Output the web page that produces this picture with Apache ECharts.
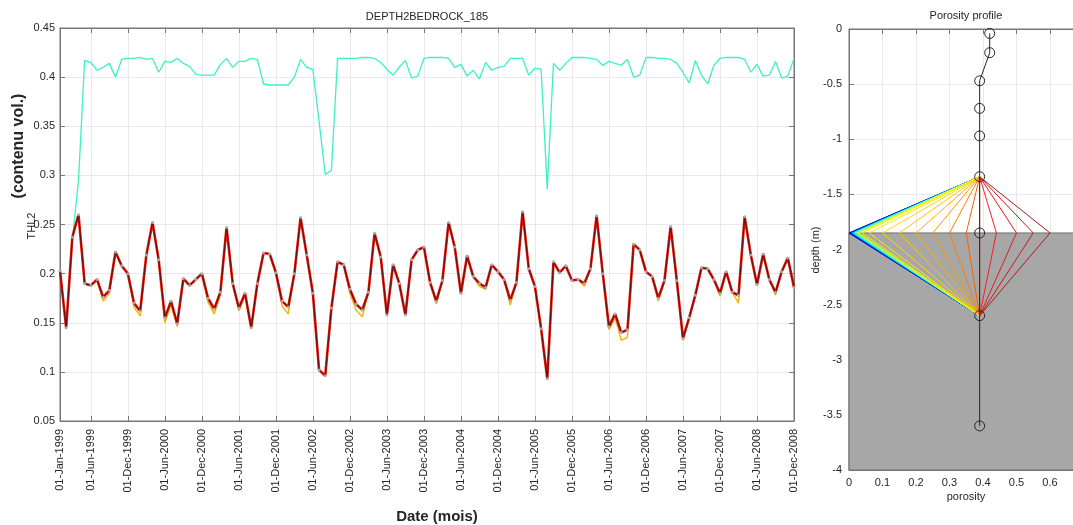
<!DOCTYPE html>
<html><head><meta charset="utf-8">
<script src="https://cdn.jsdelivr.net/npm/echarts@6/dist/echarts.min.js"></script>
<style>html,body{margin:0;padding:0;background:#fff;overflow:hidden;width:1073px;height:525px}#c{width:1090px;height:525px}</style>
</head><body><div id="c"></div>
<script>
// ---------- DATA ----------
const monthNames = ['Jan','Feb','Mar','Apr','May','Jun','Jul','Aug','Sep','Oct','Nov','Dec'];
const years = [1999,2000,2001,2002,2003,2004,2005,2006,2007,2008];
const tickLabels = ['01-Jan-1999','01-Jun-1999','01-Dec-1999','01-Jun-2000','01-Dec-2000','01-Jun-2001','01-Dec-2001',
  '01-Jun-2002','01-Dec-2002','01-Jun-2003','01-Dec-2003','01-Jun-2004','01-Dec-2004','01-Jun-2005','01-Dec-2005',
  '01-Jun-2006','01-Dec-2006','01-Jun-2007','01-Dec-2007','01-Jun-2008','01-Dec-2008'];
const yTicks = [0.05,0.1,0.15,0.2,0.25,0.3,0.35,0.4,0.45];

// cyan series (upper layer water content)
const thCyan = [
 null, null, 0.235, 0.295, 0.417, 0.415, 0.407, 0.410, 0.414, 0.400,
 0.418, 0.419, 0.419, 0.420, 0.418, 0.419, 0.405, 0.416, 0.415, 0.419,
 0.414, 0.411, 0.403, 0.402, 0.402, 0.402, 0.413, 0.419, 0.410, 0.416,
 0.416, 0.419, 0.418, 0.393, 0.392, 0.392, 0.392, 0.392, 0.400, 0.418,
 0.410, 0.408, 0.355, 0.301, 0.305, 0.419, 0.419, 0.419, 0.419, 0.420,
 0.420, 0.419, 0.415, 0.408, 0.402, 0.410, 0.417, 0.399, 0.401, 0.419,
 0.420, 0.420, 0.420, 0.419, 0.410, 0.413, 0.401, 0.407, 0.398, 0.415,
 0.407, 0.410, 0.411, 0.419, 0.419, 0.419, 0.402, 0.409, 0.408, 0.286,
 0.414, 0.407, 0.414, 0.420, 0.420, 0.420, 0.419, 0.418, 0.412, 0.416,
 0.414, 0.412, 0.418, 0.400, 0.402, 0.420, 0.420, 0.419, 0.419, 0.418,
 0.414, 0.405, 0.394, 0.417, 0.402, 0.393, 0.412, 0.419, 0.420, 0.420,
 0.420, 0.418, 0.405, 0.413, 0.401, 0.402, 0.416, 0.399, 0.401, 0.419
];
// THL2 main (dark red) series
const thl2Main = [
 0.203, 0.145, 0.237, 0.260, 0.190, 0.188, 0.194, 0.176, 0.183, 0.222,
 0.208, 0.200, 0.170, 0.162, 0.219, 0.252, 0.214, 0.155, 0.172, 0.149,
 0.195, 0.188, 0.194, 0.200, 0.175, 0.164, 0.181, 0.247, 0.190, 0.165,
 0.180, 0.145, 0.190, 0.221, 0.220, 0.201, 0.172, 0.166, 0.200, 0.257,
 0.219, 0.180, 0.102, 0.096, 0.165, 0.212, 0.209, 0.184, 0.169, 0.163,
 0.181, 0.241, 0.217, 0.158, 0.209, 0.190, 0.158, 0.214, 0.224, 0.227,
 0.191, 0.172, 0.193, 0.252, 0.227, 0.180, 0.218, 0.197, 0.190, 0.186,
 0.209, 0.202, 0.194, 0.173, 0.191, 0.263, 0.205, 0.187, 0.144, 0.093,
 0.212, 0.201, 0.208, 0.193, 0.194, 0.190, 0.205, 0.259, 0.200, 0.146,
 0.159, 0.140, 0.143, 0.230, 0.224, 0.202, 0.197, 0.175, 0.193, 0.248,
 0.193, 0.134, 0.155, 0.178, 0.206, 0.205, 0.194, 0.180, 0.202, 0.181,
 0.178, 0.258, 0.219, 0.189, 0.220, 0.194, 0.181, 0.202, 0.216, 0.186
];
// THL2 lowest-porosity scenario (yellow envelope)
const thl2Low = [
 0.203, 0.145, 0.237, 0.260, 0.190, 0.188, 0.194, 0.172, 0.180, 0.222,
 0.208, 0.200, 0.166, 0.157, 0.219, 0.252, 0.214, 0.150, 0.168, 0.146,
 0.195, 0.188, 0.194, 0.200, 0.171, 0.159, 0.178, 0.247, 0.190, 0.162,
 0.177, 0.145, 0.190, 0.221, 0.220, 0.201, 0.167, 0.159, 0.200, 0.257,
 0.219, 0.180, 0.102, 0.096, 0.165, 0.212, 0.209, 0.180, 0.163, 0.156,
 0.181, 0.241, 0.217, 0.158, 0.209, 0.190, 0.158, 0.214, 0.224, 0.227,
 0.191, 0.169, 0.193, 0.252, 0.227, 0.180, 0.218, 0.197, 0.187, 0.184,
 0.209, 0.202, 0.194, 0.168, 0.191, 0.263, 0.205, 0.187, 0.144, 0.093,
 0.212, 0.201, 0.208, 0.193, 0.194, 0.187, 0.205, 0.259, 0.200, 0.143,
 0.155, 0.132, 0.135, 0.230, 0.224, 0.202, 0.197, 0.172, 0.193, 0.248,
 0.193, 0.132, 0.155, 0.178, 0.206, 0.205, 0.194, 0.177, 0.202, 0.181,
 0.170, 0.258, 0.219, 0.189, 0.220, 0.194, 0.178, 0.202, 0.216, 0.186
];

// Porosity profile
const profileDepth    = [-0.04, -0.215, -0.47, -0.72, -0.97, -1.34, -1.85, -2.60, -3.60];
const profilePorosity = [0.42, 0.42, 0.39, 0.39, 0.39, 0.39, 0.39, 0.39, 0.39];
const bedrockDepth = -1.85;
const fanTopIndex = 5, fanBottomIndex = 7;
const fanPorosity = [0.0, 0.002, 0.004, 0.006, 0.008, 0.010, 0.012, 0.015, 0.018, 0.021, 0.025, 0.03, 0.04,
                     0.06, 0.10, 0.15, 0.20, 0.25, 0.30, 0.35, 0.39, 0.44, 0.50, 0.55, 0.60];
// style palette for fan lines (jet-like)
const fanColors = ['#00009a','#0000c8','#0010f0','#0040ff','#0070ff','#00a0ff','#00d0ff','#20ffdf','#50ffaf',
                   '#80ff80','#b0ff50','#e0ff20','#ffee00','#ffe600','#ffd700','#ffc800','#ffb000','#ff9800',
                   '#ff8000','#ff6000','#ff4000','#f52020','#e01a1a','#c81818','#b01818'];

// ---------- BUILD ----------
const months = [];
years.forEach(y => monthNames.forEach(m => months.push('01-' + m + '-' + y)));
const tickSet = new Set(tickLabels);
const showTick = (i, v) => tickSet.has(v);

const FONT = '"Liberation Sans", Arial, Helvetica, sans-serif';
const AX = '#777777', TXT = '#262626', GRID = '#e9e9e9';

const chart = echarts.init(document.getElementById('c'), null, {renderer: 'canvas'});

const series = [
  {type:'line', xAxisIndex:0, yAxisIndex:0, data: thCyan, showSymbol:false, symbol:'none',
   lineStyle:{color:'#3cf0c8', width:1.3}, z:2, connectNulls:false},
  {type:'line', xAxisIndex:0, yAxisIndex:0, data: thl2Low, symbol:'none',
   lineStyle:{color:'#f2b400', width:1.4}, z:3},
  {type:'line', xAxisIndex:0, yAxisIndex:0, data: thl2Main, symbol:'none',
   lineStyle:{color:'#de1a10', width:2.6}, z:4},
  {type:'line', xAxisIndex:0, yAxisIndex:0, data: thl2Main, symbol:'circle', symbolSize:3,
   itemStyle:{color:'#a9a9a9'}, lineStyle:{color:'#640e0e', width:1}, z:5},
  // bedrock zone
  {type:'line', xAxisIndex:2, yAxisIndex:2, data:[[0, bedrockDepth]], symbol:'none', lineStyle:{width:0}, z:1,
   markArea:{silent:true, itemStyle:{color:'#a7a7a7', borderColor:'#6f6f6f', borderWidth:1},
     data:[[{coord:[0, bedrockDepth]}, {coord:[0.7, -4]}]]}}
];
fanPorosity.forEach((p, k) => {
  series.push({type:'line', xAxisIndex:2, yAxisIndex:2, symbol:'none', z:3,
    data:[[profilePorosity[fanTopIndex], profileDepth[fanTopIndex]], [p, bedrockDepth],
          [profilePorosity[fanBottomIndex], profileDepth[fanBottomIndex]]],
    lineStyle:{color: fanColors[k], width:1}});
});
series.push({type:'line', xAxisIndex:2, yAxisIndex:2, z:6,
  data: profileDepth.map((d, i) => [profilePorosity[i], d]),
  symbol:'circle', symbolSize:10,
  itemStyle:{color:'rgba(0,0,0,0)', borderColor:'#262626', borderWidth:1},
  lineStyle:{color:'#262626', width:1}});

const txt = (x, y, text, size, bold, rot) => ({type:'text', x, y, rotation: rot || 0, silent:true,
  style:{text, x:0, y:0, font:(bold ? 'bold ' : '') + size + 'px ' + FONT, fill:TXT,
         textAlign:'center', textVerticalAlign:'middle', align:'center', verticalAlign:'middle'}});

const option = {
  animation:false,
  backgroundColor:'#ffffff',
  grid:[
    {left:60, top:28, width:734, height:393, show:true, borderColor:AX, borderWidth:1, backgroundColor:'transparent'},
    {left:849, top:29, width:234.5, height:441, show:true, borderColor:AX, borderWidth:1, backgroundColor:'transparent'}
  ],
  xAxis:[
    {type:'category', gridIndex:0, data:months, boundaryGap:false,
     axisLine:{lineStyle:{color:AX}},
     axisTick:{inside:true, length:5, interval:showTick, lineStyle:{color:AX}},
     axisLabel:{rotate:90, interval:showTick, fontSize:11, fontFamily:FONT, color:TXT, margin:8},
     splitLine:{show:true, interval:showTick, lineStyle:{color:GRID}}},
    {type:'category', gridIndex:0, data:months, boundaryGap:false, position:'top',
     axisLine:{lineStyle:{color:AX}},
     axisTick:{inside:true, length:5, interval:showTick, lineStyle:{color:AX}},
     axisLabel:{show:false}, splitLine:{show:false}},
    {type:'value', gridIndex:1, min:0, max:0.7, interval:0.1,
     axisLine:{onZero:false, lineStyle:{color:AX}},
     axisTick:{inside:true, length:5, lineStyle:{color:AX}},
     axisLabel:{fontSize:11, fontFamily:FONT, color:TXT, margin:7, showMaxLabel:false},
     splitLine:{show:true, lineStyle:{color:GRID}}},
    {type:'value', gridIndex:1, min:0, max:0.7, interval:0.1, position:'top',
     axisLine:{onZero:false, lineStyle:{color:AX}},
     axisTick:{inside:true, length:5, lineStyle:{color:AX}},
     axisLabel:{show:false}, splitLine:{show:false}}
  ],
  yAxis:[
    {type:'value', gridIndex:0, min:yTicks[0], max:yTicks[yTicks.length-1], interval:0.05,
     axisLine:{show:true, lineStyle:{color:AX}},
     axisTick:{show:true, inside:true, length:5, lineStyle:{color:AX}},
     axisLabel:{fontSize:11, fontFamily:FONT, color:TXT, margin:5},
     splitLine:{show:true, lineStyle:{color:GRID}}},
    {type:'value', gridIndex:0, min:yTicks[0], max:yTicks[yTicks.length-1], interval:0.05, position:'right',
     axisLine:{show:true, lineStyle:{color:AX}},
     axisTick:{show:true, inside:true, length:5, lineStyle:{color:AX}},
     axisLabel:{show:false}, splitLine:{show:false}},
    {type:'value', gridIndex:1, min:-4, max:0, interval:0.5,
     axisLine:{show:true, onZero:false, lineStyle:{color:AX}},
     axisTick:{show:true, inside:true, length:5, lineStyle:{color:AX}},
     axisLabel:{fontSize:11, fontFamily:FONT, color:TXT, margin:7},
     splitLine:{show:true, lineStyle:{color:GRID}}}
  ],
  series,
  graphic:[
    txt(427, 17, 'DEPTH2BEDROCK_185', 11, false),
    txt(966, 16, 'Porosity profile', 11, false),
    txt(966, 497, 'porosity', 11, false),
    txt(816, 250, 'depth (m)', 11, false, Math.PI/2),
    txt(19, 146, '(contenu vol.)', 16, true, Math.PI/2),
    txt(32, 226, 'THL2', 11, false, Math.PI/2),
    txt(437, 517, 'Date (mois)', 15, true)
  ]
};
chart.setOption(option);
</script>
</body></html>
